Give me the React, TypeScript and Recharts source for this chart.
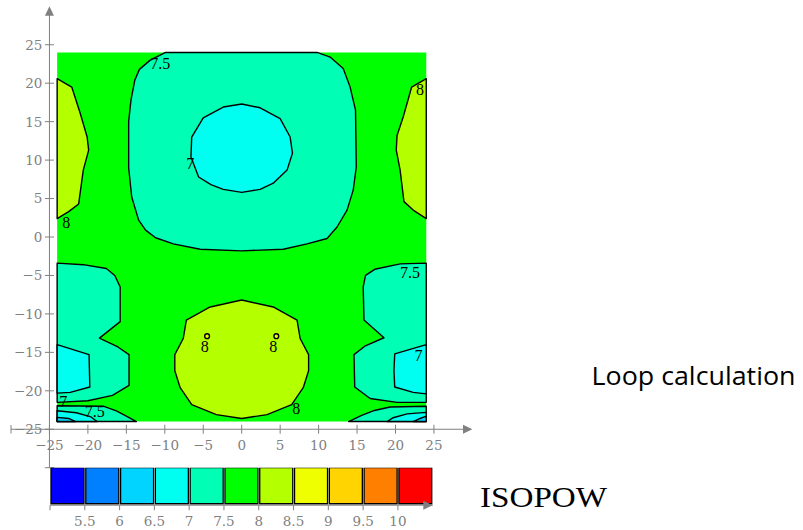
import React from 'react';
import {
  ScatterChart,
  Scatter,
  XAxis,
  YAxis,
  ReferenceLine,
  ReferenceDot,
  BarChart,
  Bar,
  Cell,
} from 'recharts';

// ---------- data ----------
const xTicks = [-25, -20, -15, -10, -5, 0, 5, 10, 15, 20, 25];
const yTicks = [-25, -20, -15, -10, -5, 0, 5, 10, 15, 20, 25];

// level colours (5–5.5 ... 10–10.5)
const levelColors = [
  '#0000ff', '#0080ff', '#00d4ff', '#00fff0', '#00ffb4', '#00ff00',
  '#b4ff00', '#f0ff00', '#ffd400', '#ff8000', '#ff0000',
];
const levelMids = [5.25, 5.75, 6.25, 6.75, 7.25, 7.75, 8.25, 8.75, 9.25, 9.75, 10.25];
const colorbarTicks = [5, 5.5, 6, 6.5, 7, 7.5, 8, 8.5, 9, 9.5, 10];

// contour regions (data coordinates)
const fieldBox = [[-24, -24], [24, -24], [24, 24], [-24, 24]];

const topAqua = [
  [-9.9, 24], [-11.9, 23.0], [-13.3, 21.8], [-13.9, 20.4], [-14.4, 17.8], [-14.7, 15.0],
  [-14.7, 9.0], [-14.3, 5.2], [-13.4, 2.2], [-12.5, 0.9], [-11.2, -0.1], [-8.9, -0.9],
  [-5.4, -1.6], [0, -1.8], [5.4, -1.6], [8.5, -0.9], [11.1, -0.2], [12.4, 1.3],
  [13.7, 3.5], [14.5, 6.1], [14.9, 9.1], [14.8, 16.5], [14.1, 19.5], [13.2, 21.9],
  [11.5, 23.4], [9.8, 24],
];
const topCyan = [
  [0, 17.3], [2.4, 16.8], [5.0, 15.4], [6.3, 13.0], [6.6, 10.9], [5.9, 8.7], [4.1, 7.0],
  [2.4, 6.2], [0, 5.8], [-2.4, 6.2], [-4.0, 6.8], [-5.6, 7.8], [-6.6, 10.4], [-6.5, 13.0],
  [-5.0, 15.5], [-2.4, 16.9],
];
const leftLime = [
  [-24, 20.6], [-22.1, 19.5], [-21.0, 16.1], [-20.1, 13.0], [-19.9, 11.3], [-20.6, 8.7],
  [-21.2, 4.3], [-22.5, 3.3], [-24, 2.4],
];
const rightLime = [
  [24, 20.6], [22.1, 19.5], [21.0, 15.6], [20.2, 13.2], [20.1, 11.3], [20.6, 8.7],
  [21.1, 4.6], [22.3, 3.5], [24, 2.4],
];
const bottomLime = [
  [0, -8.2], [4.1, -9.1], [7.2, -10.8], [7.6, -13.2], [8.7, -15.3], [8.7, -17.4],
  [8.0, -19.6], [6.5, -21.8], [3.3, -23.1], [0, -23.6], [-3.3, -23.1], [-6.5, -21.8],
  [-8.0, -19.6], [-8.7, -17.4], [-8.7, -15.3], [-7.6, -13.2], [-7.2, -10.8], [-4.1, -9.1],
];
const leftAqua = [
  [-24, -3.4], [-20.6, -3.6], [-17.6, -4.1], [-16.5, -5.0], [-15.8, -6.5], [-15.8, -11.0],
  [-18.5, -13.15], [-16.1, -14.3], [-14.65, -15.3], [-14.65, -19.3], [-16.8, -20.6],
  [-20.0, -21.3], [-24, -21.5],
];
const rightAqua = [
  [24, -3.4], [20.6, -3.5], [17.3, -4.2], [16.1, -5.0], [15.8, -6.5], [15.9, -10.8],
  [18.5, -13.1], [16.0, -14.2], [14.6, -15.3], [14.7, -19.5], [16.7, -21.0],
  [20.2, -21.5], [24, -21.5],
];
const leftCyan = [[-24, -14.0], [-19.85, -15.3], [-19.75, -19.5], [-22.3, -20.2], [-24, -20.3]];
const rightCyan = [[24, -14.0], [19.9, -15.2], [19.8, -17.4], [19.9, -19.5], [22.3, -20.2], [24, -20.4]];

const blAqua = [[-24, -21.95], [-18.0, -22.0], [-16.3, -22.6], [-15.0, -23.3], [-13.7, -24], [-24, -24]];
const blCyan = [[-24, -22.6], [-21.5, -22.85], [-19.6, -23.4], [-18.8, -24], [-24, -24]];
const blDeep = [[-24, -23.45], [-22.5, -23.6], [-21.6, -24], [-24, -24]];
const brAqua = [[24, -22.0], [19.3, -22.1], [17.1, -22.6], [15.6, -23.2], [13.9, -24], [24, -24]];
const brCyan = [[24, -22.8], [21.5, -23.0], [19.7, -23.5], [18.9, -24], [24, -24]];
const brDeep = [[24, -23.3], [23.2, -23.6], [22.3, -24], [24, -24]];

const peakDots = [[-4.5, -12.9], [4.5, -12.9]];

const contourLabels = [
  { x: -10.6, y: 22.5, t: '7.5' },
  { x: -6.7, y: 9.5, t: '7' },
  { x: -22.8, y: 1.85, t: '8' },
  { x: 23.2, y: 19.1, t: '8' },
  { x: 21.9, y: -4.7, t: '7.5' },
  { x: 23.0, y: -15.5, t: '7' },
  { x: 7.1, y: -22.4, t: '8' },
  { x: -4.8, y: -14.3, t: '8' },
  { x: 4.1, y: -14.3, t: '8' },
  { x: -23.2, y: -21.5, t: '7' },
  { x: -19.1, y: -22.7, t: '7.5' },
];

// ---------- helpers ----------
const GRAY = '#808080';
const SERIF = '"DejaVu Serif", "Liberation Serif", serif';
const LSERIF = '"Liberation Serif", "DejaVu Serif", serif';
const TICK_FS = 13.5;
const pts = (arr: number[][]) => arr.map(([x, y]) => ({ x, y }));
const fmt = (v: number) => (v < 0 ? '\u2212' + Math.abs(v) : String(v));

const polyRenderer = (fill: string, stroke: string) => (props: any) => {
  const p = props.points as { x: number; y: number }[];
  if (!p || !p.length) return <g />;
  const d = p.map((q, i) => `${i ? 'L' : 'M'}${q.x},${q.y}`).join('') + 'Z';
  return (
    <path d={d} fill={fill} stroke={stroke} strokeWidth={stroke === 'none' ? 0 : 1.4} strokeLinejoin="round" />
  );
};

const regions: { data: number[][]; fill: string; stroke: string }[] = [
  { data: fieldBox, fill: levelColors[5], stroke: 'none' },
  { data: topAqua, fill: levelColors[4], stroke: '#000' },
  { data: topCyan, fill: levelColors[3], stroke: '#000' },
  { data: leftLime, fill: levelColors[6], stroke: '#000' },
  { data: rightLime, fill: levelColors[6], stroke: '#000' },
  { data: bottomLime, fill: levelColors[6], stroke: '#000' },
  { data: leftAqua, fill: levelColors[4], stroke: '#000' },
  { data: rightAqua, fill: levelColors[4], stroke: '#000' },
  { data: leftCyan, fill: levelColors[3], stroke: '#000' },
  { data: rightCyan, fill: levelColors[3], stroke: '#000' },
  { data: blAqua, fill: levelColors[4], stroke: '#000' },
  { data: blCyan, fill: levelColors[3], stroke: '#000' },
  { data: blDeep, fill: levelColors[2], stroke: '#000' },
  { data: brAqua, fill: levelColors[4], stroke: '#000' },
  { data: brCyan, fill: levelColors[3], stroke: '#000' },
  { data: brDeep, fill: levelColors[2], stroke: '#000' },
];

const XTick = (props: any) => {
  const { x, y, payload } = props;
  return (
    <g>
      <line x1={x} x2={x} y1={y - 4.5} y2={y + 4.5} stroke={GRAY} strokeWidth={1} />
      <text x={x} y={y + 20.8} textAnchor="middle" fontFamily={SERIF} fontSize={TICK_FS} fill={GRAY}>
        {fmt(payload.value)}
      </text>
    </g>
  );
};

const YTick = (props: any) => {
  const { x, y, payload } = props;
  return (
    <g>
      <line x1={x - 4.5} x2={x + 4.5} y1={y} y2={y} stroke={GRAY} strokeWidth={1} />
      <text x={x - 7} y={y + 4.9} textAnchor="end" fontFamily={SERIF} fontSize={TICK_FS} fill={GRAY}>
        {fmt(payload.value)}
      </text>
    </g>
  );
};

const CbTick = (props: any) => {
  const { x, y, payload } = props;
  return (
    <g>
      <line x1={x} x2={x} y1={y} y2={y + 5} stroke={GRAY} strokeWidth={1} />
      {payload.value !== 5 && (
        <text x={x} y={y + 21} textAnchor="middle" fontFamily={SERIF} fontSize={TICK_FS} fill={GRAY}>
          {String(payload.value)}
        </text>
      )}
    </g>
  );
};

const arrowRight = (p: any) => (
  <path d={`M${p.cx},${p.cy}L${p.cx - 9.4},${p.cy - 4.5}L${p.cx - 9.4},${p.cy + 4.5}Z`} fill={GRAY} />
);
const arrowUp = (p: any) => (
  <path d={`M${p.cx},${p.cy}L${p.cx - 4.5},${p.cy + 9.4}L${p.cx + 4.5},${p.cy + 9.4}Z`} fill={GRAY} />
);

const cbData = levelMids.map((m, i) => ({ m, v: 1, i }));

export default function App() {
  return (
    <div style={{ position: 'absolute', left: 0, top: 0, width: 803, height: 530, background: '#fff' }}>
      <div style={{ position: 'absolute', left: 0, top: 0 }}>
        <ScatterChart
          width={480}
          height={475}
          margin={{ top: 6.3, right: 7.6, bottom: 0, left: 0 }}
        >
          <XAxis
            type="number"
            dataKey="x"
            domain={[-25, 30]}
            allowDataOverflow
            ticks={xTicks}
            interval={0}
            axisLine={false}
            tickLine={false}
            tickSize={0}
            tickMargin={0}
            height={45.75}
            tick={XTick}
          />
          <YAxis
            type="number"
            dataKey="y"
            domain={[-25, 30]}
            allowDataOverflow
            ticks={yTicks}
            interval={0}
            axisLine={false}
            tickLine={false}
            tickSize={0}
            tickMargin={0}
            width={49.45}
            tick={YTick}
          />
          {regions.map((r, k) => (
            <Scatter
              key={'r' + k}
              data={pts(r.data)}
              line={polyRenderer(r.fill, r.stroke)}
              lineType="joint"
              shape={() => <g />}
              isAnimationActive={false}
            />
          ))}
          <Scatter
            data={pts(peakDots)}
            shape={(p: any) => (
              <circle cx={p.cx} cy={p.cy} r={2.4} fill={levelColors[7]} stroke="#000" strokeWidth={1.4} />
            )}
            isAnimationActive={false}
          />
          <Scatter
            data={contourLabels}
            shape={(p: any) => (
              <text
                x={p.cx}
                y={p.cy + 5}
                textAnchor="middle"
                fontFamily={LSERIF}
                fontSize={16}
                fill="#000"
              >
                {(p.payload && p.payload.t) || p.t}
              </text>
            )}
            isAnimationActive={false}
          />
          <ReferenceLine
            segment={[{ x: -30, y: -25 }, { x: 29, y: -25 }]}
            stroke={GRAY}
            strokeWidth={1}
            ifOverflow="visible"
          />
          <ReferenceLine
            segment={[{ x: -25, y: -30 }, { x: -25, y: 29 }]}
            stroke={GRAY}
            strokeWidth={1}
            ifOverflow="visible"
          />
          <ReferenceLine
            segment={[{ x: -30, y: -25.55 }, { x: -30, y: -24.45 }]}
            stroke={GRAY}
            strokeWidth={1}
            ifOverflow="visible"
          />
          <ReferenceLine
            segment={[{ x: -25.6, y: -30 }, { x: -24.4, y: -30 }]}
            stroke={GRAY}
            strokeWidth={1}
            ifOverflow="visible"
          />
          <ReferenceDot x={30} y={-25} r={0} ifOverflow="visible" shape={arrowRight} />
          <ReferenceDot x={-25} y={30} r={0} ifOverflow="visible" shape={arrowUp} />
        </ScatterChart>
      </div>

      <div style={{ position: 'absolute', left: 0, top: 462 }}>
        <BarChart
          width={480}
          height={68}
          data={cbData}
          margin={{ top: 5.7, right: 47.3, bottom: 0, left: 50 }}
        >
          <XAxis
            type="number"
            dataKey="m"
            domain={[5, 10.5]}
            allowDataOverflow
            ticks={colorbarTicks}
            interval={0}
            axisLine={{ stroke: GRAY, strokeWidth: 1 }}
            tickLine={false}
            tickSize={0}
            tickMargin={0}
            height={24.8}
            tick={CbTick}
          />
          <YAxis domain={[-0.04, 1]} allowDataOverflow hide />
          <Bar dataKey="v" barSize={33} stroke="#000" strokeWidth={1.3} isAnimationActive={false}>
            {cbData.map((d) => (
              <Cell key={String(d.m)} fill={levelColors[d.i]} />
            ))}
          </Bar>
          <ReferenceDot x={10.5} y={-0.04} r={0} ifOverflow="visible" shape={arrowRight} />
        </BarChart>
      </div>

      <svg
        width={803}
        height={530}
        style={{ position: 'absolute', left: 0, top: 0, pointerEvents: 'none' }}
      >
        <text
          x={591.5}
          y={385}
          fontFamily='"Open Sans", "Noto Sans", sans-serif'
          fontSize={26}
          fill="#000"
          textLength={204}
          lengthAdjust="spacingAndGlyphs"
        >
          Loop calculation
        </text>
        <text
          x={480}
          y={506.7}
          fontFamily={LSERIF}
          fontSize={30}
          fill="#000"
          textLength={127}
          lengthAdjust="spacingAndGlyphs"
        >
          ISOPOW
        </text>
      </svg>
    </div>
  );
}
